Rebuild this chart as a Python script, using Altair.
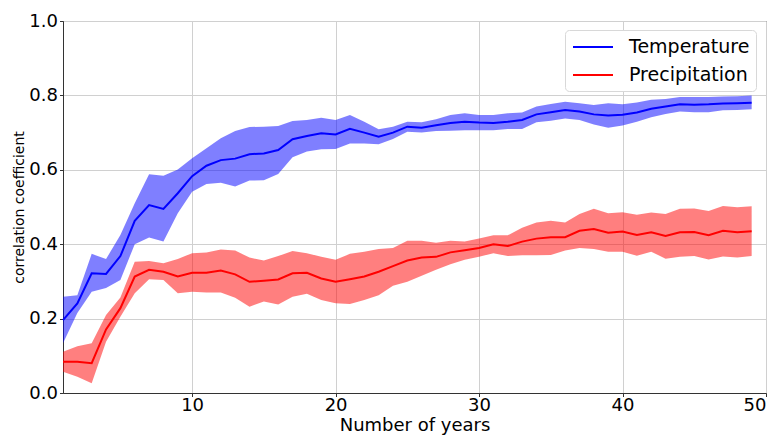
import altair as alt
import pandas as pd

years = list(range(1, 50))
series_names = ["Temperature", "Precipitation"]
series_colors = ["#0000ff", "#ff0000"]

temp_mean = [0.196, 0.241, 0.322, 0.320, 0.368, 0.463, 0.505, 0.495, 0.537, 0.583,
             0.611, 0.626, 0.630, 0.642, 0.644, 0.653, 0.682, 0.691, 0.698, 0.695,
             0.710, 0.700, 0.689, 0.700, 0.716, 0.713, 0.720, 0.726, 0.729, 0.727,
             0.726, 0.729, 0.734, 0.749, 0.755, 0.761, 0.757, 0.749, 0.746, 0.748,
             0.754, 0.764, 0.770, 0.776, 0.775, 0.776, 0.778, 0.779, 0.780]
temp_hi = [0.259, 0.263, 0.374, 0.360, 0.425, 0.510, 0.588, 0.584, 0.601, 0.631,
           0.658, 0.685, 0.704, 0.715, 0.716, 0.718, 0.731, 0.734, 0.740, 0.734,
           0.747, 0.729, 0.709, 0.716, 0.729, 0.728, 0.736, 0.747, 0.752, 0.747,
           0.747, 0.752, 0.754, 0.770, 0.777, 0.783, 0.779, 0.774, 0.779, 0.776,
           0.781, 0.788, 0.790, 0.796, 0.796, 0.796, 0.797, 0.798, 0.800]
temp_lo = [0.134, 0.215, 0.272, 0.282, 0.304, 0.400, 0.418, 0.407, 0.483, 0.541,
           0.562, 0.565, 0.555, 0.571, 0.572, 0.589, 0.634, 0.649, 0.655, 0.656,
           0.671, 0.671, 0.669, 0.683, 0.702, 0.700, 0.704, 0.705, 0.706, 0.706,
           0.706, 0.710, 0.710, 0.728, 0.732, 0.738, 0.734, 0.722, 0.713, 0.719,
           0.729, 0.741, 0.750, 0.757, 0.755, 0.755, 0.760, 0.761, 0.763]

precip_mean = [0.084, 0.084, 0.080, 0.171, 0.228, 0.313, 0.331, 0.326, 0.313, 0.323,
               0.323, 0.329, 0.319, 0.299, 0.302, 0.305, 0.322, 0.323, 0.308, 0.299,
               0.306, 0.313, 0.326, 0.341, 0.356, 0.364, 0.366, 0.378, 0.384, 0.390,
               0.400, 0.395, 0.407, 0.415, 0.419, 0.419, 0.436, 0.441, 0.431, 0.434,
               0.425, 0.432, 0.422, 0.432, 0.433, 0.424, 0.436, 0.432, 0.435]
precip_hi = [0.111, 0.126, 0.134, 0.210, 0.257, 0.353, 0.355, 0.349, 0.360, 0.376,
             0.378, 0.386, 0.383, 0.364, 0.356, 0.368, 0.382, 0.376, 0.366, 0.358,
             0.374, 0.380, 0.387, 0.390, 0.409, 0.409, 0.404, 0.409, 0.407, 0.415,
             0.424, 0.424, 0.444, 0.458, 0.463, 0.458, 0.481, 0.495, 0.483, 0.486,
             0.479, 0.485, 0.481, 0.495, 0.496, 0.489, 0.503, 0.499, 0.502]
precip_lo = [0.057, 0.044, 0.026, 0.138, 0.205, 0.268, 0.306, 0.304, 0.268, 0.272,
             0.270, 0.270, 0.256, 0.232, 0.246, 0.238, 0.259, 0.267, 0.250, 0.241,
             0.239, 0.250, 0.263, 0.288, 0.299, 0.315, 0.331, 0.346, 0.358, 0.366,
             0.376, 0.368, 0.370, 0.370, 0.371, 0.383, 0.390, 0.387, 0.380, 0.380,
             0.369, 0.380, 0.361, 0.366, 0.368, 0.359, 0.367, 0.364, 0.368]

rows = []
for name, m, lo, hi in [("Temperature", temp_mean, temp_lo, temp_hi),
                        ("Precipitation", precip_mean, precip_lo, precip_hi)]:
    for n, a, b, c in zip(years, m, lo, hi):
        rows.append({"years": n, "series": name, "mean": a, "lo": b, "hi": c})
df = pd.DataFrame(rows)

FONT = "DejaVu Sans"

x = alt.X("years:Q", scale=alt.Scale(domain=[1, 50], nice=False, zero=False),
          axis=alt.Axis(title="Number of years", values=[10, 20, 30, 40, 50]))
y = alt.Y("mean:Q", scale=alt.Scale(domain=[0, 1], nice=False),
          axis=alt.Axis(title="correlation coefficient", values=[0, 0.2, 0.4, 0.6, 0.8, 1.0],
                        format=".1f", titleFontSize=14, titlePadding=2))

color = alt.Color("series:N", scale=alt.Scale(domain=series_names, range=series_colors),
                  sort=series_names,
                  legend=alt.Legend(title=None, orient="none", legendX=502, legendY=9,
                                    symbolType="M-2,0H2", symbolSize=400, symbolStrokeWidth=2,
                                    symbolOpacity=1, symbolFillColor="transparent",
                                    symbolOffset=11,
                                    labelFontSize=19, labelFont=FONT, labelColor="black",
                                    padding=6, rowPadding=7, strokeColor="#d8d8d8",
                                    fillColor="white", cornerRadius=4, labelOffset=25))

band = alt.Chart(df).mark_area(opacity=0.5).encode(
    x=x, y=alt.Y("lo:Q", scale=alt.Scale(domain=[0, 1], nice=False)), y2="hi:Q",
    color=color, detail="series:N")

line = alt.Chart(df).mark_line(strokeWidth=2).encode(x=x, y=y, color=color)

chart = alt.layer(band, line).properties(
    width=703, height=372,
    padding={"left": 55, "top": 13, "right": 6, "bottom": 52},
    autosize=alt.AutoSizeParams(type="none"),
).configure_view(stroke="#333333", strokeWidth=1).configure_axis(
    labelFont=FONT, titleFont=FONT, labelFontSize=18, titleFontSize=18,
    labelColor="black", titleColor="black", titleFontWeight="normal",
    grid=True, gridColor="#d0d0d0", gridWidth=1,
    domainColor="#333333", tickColor="#333333", tickSize=3.5, labelPadding=2,
).configure_axisX(titlePadding=2, labelPadding=0)

chart.save("out.html", embed_options={"renderer": "svg", "actions": False})
